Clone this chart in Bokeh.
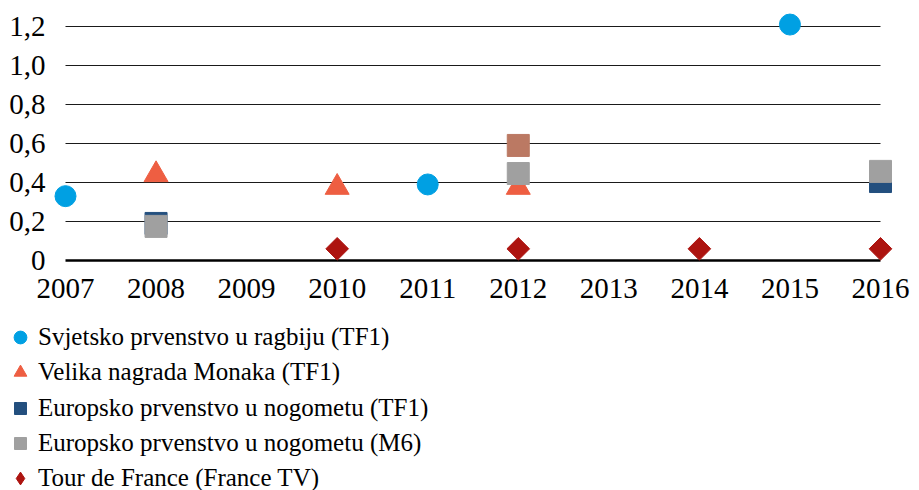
import numpy as np
from bokeh.plotting import figure
from bokeh.models import Range1d, Legend, LegendItem, FixedTicker
from bokeh.embed import file_html
from bokeh.resources import INLINE

# ---- data ----
years = [2007, 2008, 2009, 2010, 2011, 2012, 2013, 2014, 2015, 2016]
y_ticks = [0, 0.2, 0.4, 0.6, 0.8, 1.0, 1.2]
y_tick_labels = ["0", "0,2", "0,4", "0,6", "0,8", "1,0", "1,2"]

rugby_x = [2007, 2011, 2015]
rugby_y = [0.33, 0.39, 1.21]

monaco_x = [2008, 2010, 2012]
monaco_y = [0.44, 0.375, 0.375]

euro_tf1_x = [2008, 2016]
euro_tf1_y = [0.19, 0.405]

euro_m6_x = [2008, 2012, 2016]
euro_m6_y = [0.175, 0.446, 0.457]

extra_x = [2012]
extra_y = [0.59]

tour_x = [2010, 2012, 2014, 2016]
tour_y = [0.06, 0.06, 0.06, 0.06]

labels = [
    "Svjetsko prvenstvo u ragbiju (TF1)",
    "Velika nagrada Monaka (TF1)",
    "Europsko prvenstvo u nogometu (TF1)",
    "Europsko prvenstvo u nogometu (M6)",
    "Tour de France (France TV)",
]

# ---- styles ----
FONT = "Liberation Serif"
C_RUGBY, C_MONACO, C_TF1, C_M6, C_TOUR, C_EXTRA = (
    "#00A0E3", "#EE5E42", "#234F7E", "#A0A0A0", "#AD1410", "#BB7963")

# ---- layout (frame covers the whole canvas) ----
W, H = 919, 490
px_per_year = 90.556
px_per_unit = 195.0
first_year_px = 65      # pixel position of the first year
zero_px = 260           # pixel row of y = 0
x0 = years[0] - first_year_px / px_per_year
x1 = x0 + W / px_per_year
y1 = zero_px / px_per_unit
y0 = y1 - H / px_per_unit

p = figure(width=W, height=H, output_backend="svg", toolbar_location=None,
           x_range=Range1d(x0, x1), y_range=Range1d(y0, y1),
           min_border=0)
p.outline_line_color = None
p.xgrid.visible = False
p.ygrid.visible = False

for ax in (p.xaxis[0], p.yaxis[0]):
    ax.axis_line_color = None
    ax.major_tick_line_color = None
    ax.minor_tick_line_color = None
    ax.major_tick_out = 0
    ax.major_tick_in = 0
    ax.major_label_text_font = FONT
    ax.major_label_text_font_size = "29px"
    ax.major_label_text_color = "black"

# labels drawn inside the frame via negative standoffs
p.xaxis[0].ticker = FixedTicker(ticks=years)
p.xaxis[0].major_label_overrides = {y: str(y) for y in years}
p.xaxis[0].major_label_standoff = -(H - 278)
p.yaxis[0].ticker = FixedTicker(ticks=y_ticks)
p.yaxis[0].major_label_overrides = dict(zip(y_ticks, y_tick_labels))
p.yaxis[0].major_label_standoff = -45

# gridlines (only between first and last year)
p.segment(x0=[years[0]] * (len(y_ticks) - 1), x1=[years[-1]] * (len(y_ticks) - 1),
          y0=y_ticks[1:], y1=y_ticks[1:], line_color="#1a1a1a", line_width=1)
p.segment(x0=[years[0]], x1=[years[-1]], y0=y_ticks[:1], y1=y_ticks[:1],
          line_color="black", line_width=2.5)

r_rugby = p.scatter(rugby_x, rugby_y, marker="circle", size=21,
                    fill_color=C_RUGBY, line_color=C_RUGBY)
r_monaco = p.scatter(monaco_x, monaco_y, marker="triangle", size=24,
                     fill_color=C_MONACO, line_color=C_MONACO)
r_tf1 = p.scatter(euro_tf1_x, euro_tf1_y, marker="square", size=22,
                  fill_color=C_TF1, line_color=C_TF1)
p.scatter(extra_x, extra_y, marker="square", size=22,
          fill_color=C_EXTRA, line_color=C_EXTRA)
r_m6 = p.scatter(euro_m6_x, euro_m6_y, marker="square", size=22,
                 fill_color=C_M6, line_color=C_M6)
p.scatter(tour_x, tour_y, marker="square", size=16, angle=np.pi / 4,
          fill_color=C_TOUR, line_color=C_TOUR)
# legend proxy for the diamond (rotation is not applied in legends); draws nothing in the plot
r_tour_leg = p.scatter(tour_x, tour_y, marker="diamond", size=0,
                       fill_color=C_TOUR, line_color=C_TOUR)

# legend: one per item for precise placement
renderers = [r_rugby, r_monaco, r_tf1, r_m6, r_tour_leg]
glyph_w = [32, 32, 30, 30, 34]
gh = 32
glyph_cx = 20
text_x = 38
first_cy = 337
pitch = 35.3

for i, (lab, r, gw) in enumerate(zip(labels, renderers, glyph_w)):
    cy = first_cy + i * pitch
    vx = glyph_cx - gw / 2
    vy = H - cy - gh / 2
    lg = Legend(items=[LegendItem(label=lab, renderers=[r])],
                location=(vx, vy), orientation="vertical",
                padding=0, margin=0, spacing=0,
                glyph_width=gw, glyph_height=gh,
                label_standoff=int(round(text_x - (glyph_cx + gw / 2))),
                label_height=10, label_width=10,
                label_text_font=FONT, label_text_font_size="25px",
                label_text_color="black",
                border_line_color=None, background_fill_alpha=0)
    p.add_layout(lg)

open("out.html", "w").write(file_html(p, INLINE))
